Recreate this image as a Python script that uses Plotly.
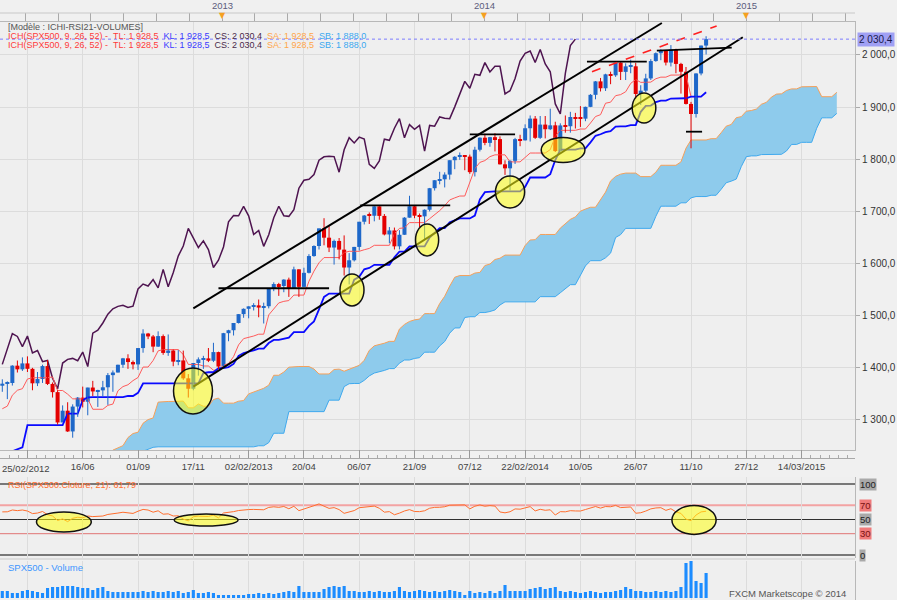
import pandas as pd
import plotly.graph_objects as go

# ------------------------------------------------------------------ data
START = pd.Timestamp("2012-02-25")          # first visible weekly candle
DAY_MS = 86400000

# weeks before the first visible candle (needed by the Ichimoku / RSI windows)
pre_high = [1330, 1344, 1338, 1335, 1322, 1297, 1320, 1337, 1339, 1327, 1337, 1364, 1371, 1359,
            1346, 1334, 1345, 1300, 1295, 1298, 1341, 1356, 1334, 1347, 1345, 1307, 1199, 1208,
            1190, 1230, 1204, 1220, 1220, 1195, 1171, 1225, 1239, 1293, 1285, 1277, 1264, 1215,
            1260, 1267, 1255, 1266, 1270, 1285, 1297, 1316, 1333, 1346, 1354, 1363, 1368]
pre_low = [1314, 1328, 1294, 1306, 1291, 1249, 1291, 1307, 1322, 1309, 1295, 1328, 1332, 1332,
           1319, 1311, 1297, 1270, 1258, 1262, 1267, 1333, 1307, 1295, 1283, 1169, 1101, 1121,
           1122, 1172, 1140, 1136, 1114, 1131, 1075, 1170, 1191, 1232, 1215, 1226, 1209, 1158,
           1158, 1231, 1209, 1202, 1254, 1265, 1275, 1290, 1306, 1300, 1335, 1340, 1354]
pre_close = [1329.2, 1343.0, 1320.0, 1321.2, 1304.3, 1279.2, 1313.8, 1332.4, 1328.2, 1319.7,
             1337.4, 1363.6, 1340.2, 1337.8, 1333.3, 1331.1, 1300.2, 1271.0, 1271.5, 1268.5,
             1339.7, 1343.8, 1316.1, 1345.0, 1292.3, 1199.4, 1178.8, 1123.5, 1176.8, 1174.0,
             1154.2, 1216.0, 1136.4, 1131.4, 1155.5, 1224.6, 1238.3, 1285.1, 1253.2, 1263.9,
             1215.7, 1158.7, 1244.3, 1255.2, 1219.7, 1265.3, 1257.6, 1277.8, 1289.1, 1315.4,
             1316.3, 1344.9, 1342.6, 1361.2, 1365.7]

open_ = [1365.7, 1369.6, 1370.9, 1404.2, 1397.1, 1408.5, 1398.1, 1370.3, 1378.5, 1403.4,
         1369.1, 1353.4, 1295.2, 1317.8, 1278.0, 1325.7, 1342.8, 1335.0, 1362.2, 1354.7,
         1356.8, 1362.7, 1386.0, 1391.0, 1405.9, 1418.2, 1411.1, 1406.6, 1437.9, 1465.8,
         1460.2, 1440.7, 1460.9, 1428.6, 1433.2, 1411.9, 1414.2, 1379.9, 1359.9, 1409.2,
         1416.2, 1418.1, 1413.6, 1430.2, 1402.4, 1466.5, 1472.1, 1486.0, 1503.0, 1513.2,
         1517.9, 1519.8, 1515.6, 1518.2, 1551.2, 1560.7, 1556.9, 1569.2, 1553.3, 1588.9,
         1555.3, 1582.2, 1614.4, 1633.7, 1667.5, 1649.6, 1630.7, 1643.4, 1626.7, 1592.4,
         1606.3, 1631.9, 1680.2, 1692.1, 1691.7, 1709.7, 1691.4, 1655.8, 1663.5, 1633.0,
         1655.2, 1688.0, 1709.9, 1691.8, 1690.5, 1703.2, 1744.5, 1759.8, 1761.6, 1770.6,
         1798.2, 1804.8, 1805.8, 1805.1, 1775.3, 1818.3, 1841.4, 1831.4, 1842.4, 1838.7,
         1790.3, 1782.6, 1797.0, 1838.6, 1836.3, 1859.5, 1878.0, 1841.1, 1866.5, 1857.6,
         1865.1, 1815.7, 1864.9, 1863.4, 1881.1, 1878.5, 1877.9, 1900.5, 1923.6, 1949.4,
         1936.2, 1962.9, 1961.0, 1985.4, 1967.6, 1978.2, 1978.3, 1925.2, 1931.6, 1955.1,
         1988.4, 2003.4, 2007.7, 1985.5, 2010.4, 1982.9, 1967.9, 1906.1, 1886.8, 1964.6,
         2018.1]
high = [1378, 1374, 1405, 1414, 1420, 1422, 1400, 1392, 1406, 1415,
        1372, 1357, 1328, 1334, 1330, 1344, 1364, 1362, 1375, 1358,
        1375, 1390, 1395, 1406, 1419, 1426, 1414, 1438, 1474, 1467,
        1463, 1470, 1464, 1464, 1435, 1434, 1433, 1388, 1409, 1420,
        1423, 1438, 1448, 1431, 1467, 1473, 1486, 1503, 1514, 1518,
        1524, 1531, 1525, 1552, 1564, 1563, 1570, 1573, 1594, 1589,
        1592, 1618, 1635, 1667, 1687, 1674, 1646, 1649, 1654, 1620,
        1632, 1680, 1693, 1698, 1710, 1710, 1695, 1670, 1669, 1664,
        1689, 1730, 1711, 1696, 1704, 1745, 1760, 1776, 1775, 1798,
        1806, 1813, 1806, 1809, 1824, 1842, 1849, 1843, 1850, 1844,
        1798, 1798, 1841, 1847, 1867, 1884, 1883, 1883, 1883, 1897,
        1872, 1869, 1884, 1891, 1889, 1902, 1901, 1925, 1950, 1956,
        1964, 1968, 1985, 1986, 1984, 1991, 1985, 1942, 1964, 1992,
        2005, 2011, 2009, 2019, 2012, 1985, 1977, 1910, 1965, 2018,
        2036]
low = [1354, 1340, 1366, 1391, 1394, 1392, 1357, 1365, 1371, 1367,
       1343, 1291, 1306, 1277, 1266, 1306, 1324, 1309, 1346, 1325,
       1345, 1329, 1354, 1391, 1400, 1398, 1397, 1396, 1429, 1455,
       1430, 1440, 1425, 1423, 1403, 1405, 1377, 1343, 1357, 1385,
       1398, 1411, 1411, 1398, 1398, 1451, 1462, 1485, 1496, 1495,
       1510, 1497, 1485, 1514, 1547, 1538, 1545, 1536, 1553, 1536,
       1555, 1581, 1613, 1627, 1635, 1622, 1598, 1608, 1577, 1560,
       1604, 1625, 1675, 1676, 1681, 1684, 1654, 1639, 1627, 1627,
       1655, 1688, 1687, 1670, 1646, 1700, 1740, 1752, 1746, 1761,
       1781, 1799, 1779, 1772, 1767, 1815, 1827, 1824, 1815, 1790,
       1770, 1740, 1791, 1825, 1836, 1834, 1839, 1839, 1840, 1856,
       1814, 1815, 1851, 1851, 1859, 1862, 1873, 1900, 1915, 1930,
       1931, 1944, 1958, 1952, 1952, 1965, 1916, 1904, 1929, 1952,
       1987, 1990, 1980, 1978, 1965, 1926, 1905, 1821, 1880, 1961,
       2001]
close = [1369.6, 1370.9, 1404.2, 1397.1, 1408.5, 1398.1, 1370.3, 1378.5, 1403.4, 1369.1,
         1353.4, 1295.2, 1317.8, 1278.0, 1325.7, 1342.8, 1335.0, 1362.2, 1354.7, 1356.8,
         1362.7, 1386.0, 1391.0, 1405.9, 1418.2, 1411.1, 1406.6, 1437.9, 1465.8, 1460.2,
         1440.7, 1460.9, 1428.6, 1433.2, 1411.9, 1414.2, 1379.9, 1359.9, 1409.2, 1416.2,
         1418.1, 1413.6, 1430.2, 1402.4, 1466.5, 1472.1, 1486.0, 1503.0, 1513.2, 1517.9,
         1519.8, 1515.6, 1518.2, 1551.2, 1560.7, 1556.9, 1569.2, 1553.3, 1588.9, 1555.3,
         1582.2, 1614.4, 1633.7, 1667.5, 1649.6, 1630.7, 1643.4, 1626.7, 1592.4, 1606.3,
         1631.9, 1680.2, 1692.1, 1691.7, 1709.7, 1691.4, 1655.8, 1663.5, 1633.0, 1655.2,
         1688.0, 1709.9, 1691.8, 1690.5, 1703.2, 1744.5, 1759.8, 1761.6, 1770.6, 1798.2,
         1804.8, 1805.8, 1805.1, 1775.3, 1818.3, 1841.4, 1831.4, 1842.4, 1838.7, 1790.3,
         1782.6, 1797.0, 1838.6, 1836.3, 1859.5, 1878.0, 1841.1, 1866.5, 1857.6, 1865.1,
         1815.7, 1864.9, 1863.4, 1881.1, 1878.5, 1877.9, 1900.5, 1923.6, 1949.4, 1936.2,
         1962.9, 1961.0, 1985.4, 1967.6, 1978.2, 1978.3, 1925.2, 1931.6, 1955.1, 1988.4,
         2003.4, 2007.7, 1985.5, 2010.4, 1982.9, 1967.9, 1906.1, 1886.8, 1964.6, 2018.1,
         2030.4]
volume = [7, 7, 5, 5, 7, 8, 7, 6, 5, 10,
          11, 11, 12, 12, 12, 11, 10, 10, 8, 10,
          11, 7, 6, 6, 6, 6, 6, 6, 7, 6,
          7, 6, 6, 7, 6, 7, 5, 6, 8, 5,
          5, 6, 5, 3, 3, 3, 3, 3, 3, 4,
          4, 5, 4, 5, 4, 5, 6, 7, 6, 12,
          6, 6, 6, 6, 9, 11, 12, 11, 12, 7,
          7, 6, 6, 7, 6, 7, 6, 6, 7, 11,
          7, 6, 7, 8, 7, 6, 7, 6, 7, 8,
          7, 6, 3, 7, 5, 6, 5, 7, 5, 7,
          13, 7, 7, 7, 7, 9, 10, 11, 9, 10,
          11, 7, 6, 7, 6, 5, 6, 7, 6, 5,
          6, 6, 7, 8, 11, 9, 7, 7, 6, 6,
          7, 6, 7, 6, 7, 11, 35, 37, 17, 15,
          25]

tick_dates = ["2012-03-31", "2012-06-16", "2012-09-01", "2012-11-17", "2013-02-02",
              "2013-04-20", "2013-07-06", "2013-09-21", "2013-12-07", "2014-02-22",
              "2014-05-10", "2014-07-26", "2014-10-11", "2014-12-27", "2015-03-14"]
tick_labels = ["", "16/06", "01/09", "17/11", "02/02/2013", "20/04", "06/07", "21/09",
               "07/12", "22/02/2014", "10/05", "26/07", "11/10", "27/12", "14/03/2015"]
first_label = "25/02/2012"
price_ticks = [1300, 1400, 1500, 1600, 1700, 1800, 1900, 2000]
year_labels = ["2013", "2014", "2015"]
year_dates = ["2013-01-01", "2014-01-01", "2015-01-01"]
last_price = 2030.4

# hand-drawn analysis objects, in (week number from START, price) coordinates
channel_lines = [((38.0, 1514.2), (131.2, 2061.4)),
                 ((38.0, 1363.8), (147.3, 2034.0))]
level_lines = [((43.0, 1552.6), (65.0, 1552.6)),
               ((71.2, 1711.7), (89.1, 1711.7)),
               ((93.0, 1847.9), (102.0, 1847.9)),
               ((116.3, 1987.2), (128.2, 1987.2)),
               ((130.2, 2008.2), (145.1, 2014.0)),
               ((136.0, 1852.9), (139.2, 1852.9))]
red_dash_line = ((117.3, 1968.0), (142.1, 2055.6))
price_ellipses = [(34.06, 41.81, 1311.5, 1399.7),
                  (67.18, 71.95, 1518.6, 1580.0),
                  (82.2, 86.8, 1614.5, 1675.9),
                  (98.1, 103.9, 1706.6, 1767.9),
                  (107.2, 115.9, 1793.8, 1841.8),
                  (125.3, 130.0, 1869.6, 1927.1)]
rsi_ellipses = [(6.8, 17.7, 32.4, 60.6),
                (34.2, 46.9, 40.8, 57.7),
                (133.2, 142.0, 28.9, 69.7)]

# ------------------------------------------------------------------ helpers
def wk(f):
    return START + pd.Timedelta(days=7 * f)

def py(y):           # screen y (px) -> paper fraction
    return (600 - y) / 579.0

n = len(close)
npre = len(pre_close)
dates = [wk(i) for i in range(n)]
X0, X1 = wk(-0.4575), wk(169.62)

H = pd.Series(pre_high + high, dtype=float)
L = pd.Series(pre_low + low, dtype=float)
C = pd.Series(pre_close + close, dtype=float)
tenkan = (H.rolling(9).max() + L.rolling(9).min()) / 2
kijun = (H.rolling(26).max() + L.rolling(26).min()) / 2
ssa_raw = (tenkan + kijun) / 2
ssb_raw = (H.rolling(52).max() + L.rolling(52).min()) / 2
d = C.diff()
ag = d.clip(lower=0).ewm(alpha=1 / 21, adjust=False).mean()
al = (-d).clip(lower=0).ewm(alpha=1 / 21, adjust=False).mean()
rsi = 100 - 100 / (1 + ag / al)

UP, DOWN = "#1f68c9", "#e40000"
fig = go.Figure()

# ---- cloud (shifted 26 weeks forward)
cx, ca, cb = [], [], []
for p in range(0, n + 26):
    k = p - 26 + npre
    if pd.notna(ssb_raw[k]) and pd.notna(ssa_raw[k]):
        cx.append(wk(p)); ca.append(ssa_raw[k]); cb.append(ssb_raw[k])
fig.add_trace(go.Scatter(x=cx, y=cb, mode="lines", line=dict(color="#3fa9ee", width=1),
                         hoverinfo="skip"))
fig.add_trace(go.Scatter(x=cx, y=ca, mode="lines", line=dict(color="#f5a05a", width=1),
                         fill="tonexty", fillcolor="#8ecbec", hoverinfo="skip"))

# ---- chikou span (close shifted 26 weeks back)
fig.add_trace(go.Scatter(x=[wk(i - 26) for i in range(26, n)], y=close[26:], mode="lines",
                         line=dict(color="#4e1450", width=1.5)))
# ---- tenkan / kijun
fig.add_trace(go.Scatter(x=dates, y=list(tenkan[npre:]), mode="lines",
                         line=dict(color="#ff5a5a", width=1)))
fig.add_trace(go.Scatter(x=dates, y=list(kijun[npre:]), mode="lines",
                         line=dict(color="#0a0aff", width=1.8)))

# ---- candles
for is_up, col in ((True, UP), (False, DOWN)):
    idx = [i for i in range(n) if (close[i] >= open_[i]) == is_up]
    wx, wy = [], []
    for i in idx:
        wx += [dates[i], dates[i], None]
        wy += [low[i], high[i], None]
    fig.add_trace(go.Scatter(x=wx, y=wy, mode="lines", line=dict(color=col, width=1),
                             hoverinfo="skip"))
    fig.add_trace(go.Bar(x=[dates[i] for i in idx],
                         base=[min(open_[i], close[i]) for i in idx],
                         y=[max(abs(close[i] - open_[i]), 1.5) for i in idx],
                         width=0.8 * 7 * DAY_MS, marker=dict(color=col, line=dict(width=0))))

# ---- RSI
fig.add_trace(go.Scatter(x=dates, y=list(rsi[npre:]), mode="lines",
                         line=dict(color="#ff6e2e", width=1), xaxis="x2", yaxis="y2"))
# ---- volume
fig.add_trace(go.Bar(x=dates, y=volume, width=0.62 * 7 * DAY_MS,
                     marker=dict(color="#1c8cff", line=dict(width=0)), xaxis="x3", yaxis="y3"))
# dummy traces registering the decorative axes
fig.add_trace(go.Scatter(x=[dates[0]], y=[None], xaxis="x4", yaxis="y", hoverinfo="skip"))
fig.add_trace(go.Scatter(x=[dates[0]], y=[None], xaxis="x5", yaxis="y", hoverinfo="skip"))

# ------------------------------------------------------------------ shapes
shapes = []
for (a, pa), (b, pb) in channel_lines:
    shapes.append(dict(type="line", xref="x", yref="y", x0=wk(a), y0=pa, x1=wk(b), y1=pb,
                       line=dict(color="black", width=2)))
for (a, pa), (b, pb) in level_lines:
    shapes.append(dict(type="line", xref="x", yref="y", x0=wk(a), y0=pa, x1=wk(b), y1=pb,
                       line=dict(color="black", width=1.8)))
(a, pa), (b, pb) = red_dash_line
shapes.append(dict(type="line", xref="x", yref="y", x0=wk(a), y0=pa, x1=wk(b), y1=pb,
                   line=dict(color="#ff2020", width=1.6, dash="dash")))
for a, b, p0, p1 in price_ellipses:
    shapes.append(dict(type="circle", xref="x", yref="y", x0=wk(a), x1=wk(b), y0=p0, y1=p1,
                       fillcolor="rgba(255,255,20,0.55)", line=dict(color="#111", width=1.5)))
for a, b, p0, p1 in rsi_ellipses:
    shapes.append(dict(type="circle", xref="x2", yref="y2", x0=wk(a), x1=wk(b), y0=p0, y1=p1,
                       fillcolor="rgba(255,255,20,0.55)", line=dict(color="#111", width=1.5)))
# last price dotted line
shapes.append(dict(type="line", xref="paper", yref="y", x0=0, x1=1, y0=last_price,
                   y1=last_price, line=dict(color="#7b7bff", width=1, dash="dot")))
# RSI levels
for lv, colr, w in ((100, "#505050", 1.5), (70, "#f3a3a3", 2), (50, "#303030", 1),
                    (30, "#e07474", 1), (0, "#505050", 1.5)):
    shapes.append(dict(type="line", xref="paper", yref="y2", x0=0, x1=1, y0=lv, y1=lv,
                       line=dict(color=colr, width=w), layer="below"))
# top band border
shapes.append(dict(type="line", xref="paper", yref="paper", x0=0, x1=1, y0=py(13), y1=py(13),
                   line=dict(color="#c8c8c8", width=1)))
shapes.append(dict(type="line", xref="paper", yref="paper", x0=0, x1=1, y0=py(559), y1=py(559),
                   line=dict(color="#c8c8c8", width=1)))

# ------------------------------------------------------------------ annotations
ann = []
F = "Liberation Sans"
ann.append(dict(xref="paper", yref="paper", x=6 / 855, y=py(27), xanchor="left", yanchor="middle",
                text="[Modèle : ICHI-RSI21-VOLUMES]", showarrow=False,
                font=dict(family=F, size=9, color="#555")))
ich = ("<span style='color:#ff3b3b'>ICH(SPX500, 9, 26, 52) -  TL: 1 928,5</span>  "
       "<span style='color:#3a3aff'>KL: 1 928,5</span>  "
       "<span style='color:#4a2a4a'>CS: 2 030,4</span>  "
       "<span style='color:#ffa64a'>SA: 1 928,5</span>  "
       "<span style='color:#3aa8f0'>SB: 1 888,0</span>")
for yy in (36, 45):
    ann.append(dict(xref="paper", yref="paper", x=6 / 855, y=py(yy), xanchor="left",
                    yanchor="middle", text=ich, showarrow=False, font=dict(family=F, size=9)))
ann.append(dict(xref="paper", yref="paper", x=6 / 855, y=py(485), xanchor="left",
                yanchor="middle", text="RSI(SPX500.Cloture, 21): 61,79", showarrow=False,
                font=dict(family=F, size=9, color="#ff6e2e")))
ann.append(dict(xref="paper", yref="paper", x=6 / 855, y=py(567), xanchor="left",
                yanchor="middle", text="SPX500 - Volume", showarrow=False,
                font=dict(family=F, size=9.5, color="#3d96ff")))
ann.append(dict(xref="paper", yref="paper", x=848 / 855, y=py(593), xanchor="right",
                yanchor="middle", text="FXCM Marketscope © 2014", showarrow=False,
                font=dict(family=F, size=9.5, color="#555")))
ann.append(dict(xref="paper", yref="paper", x=0, y=py(468), xanchor="left", yanchor="middle",
                text=first_label, showarrow=False, font=dict(family=F, size=9.5, color="#444")))
for lab, dstr in zip(year_labels, year_dates):
    xd = pd.Timestamp(dstr) - pd.Timedelta(days=5)
    ann.append(dict(xref="x", yref="paper", x=xd, y=py(6), text=lab, showarrow=False,
                    yanchor="middle", font=dict(family=F, size=9.5, color="#5c5c7c")))
    ann.append(dict(xref="x", yref="paper", x=xd, y=py(15.5), text="▼", showarrow=False,
                    yanchor="middle", font=dict(family="DejaVu Sans", size=8, color="#f5a020")))
ann.append(dict(xref="paper", yref="y", x=1, xshift=2, y=last_price, xanchor="left",
                yanchor="middle", text="2 030,4", showarrow=False, bgcolor="#a0a0f4",
                borderpad=1, font=dict(family=F, size=10, color="#1a1a4a")))
for lv, bg, fc in ((100, "#a9a9a9", "#222"), (70, "#f07a7a", "#7a1010"), (50, "#a9a9a9", "#222"),
                   (30, "#f07a7a", "#7a1010"), (0, "#a9a9a9", "#222")):
    ann.append(dict(xref="paper", yref="y2", x=1, xshift=4, y=lv, xanchor="left",
                    yanchor="middle", text=str(lv), showarrow=False, bgcolor=bg, borderpad=0,
                    font=dict(family=F, size=9.5, color=fc)))

# ------------------------------------------------------------------ layout
GRID = "#dcdcdc"
top_ticks = [pd.Timestamp(year_dates[0]) - pd.Timedelta(days=5) + pd.Timedelta(days=45.656 * j)
             for j in range(-7, 20)]
common_x = dict(range=[X0, X1], tickvals=tick_dates, showticklabels=False, ticks="",
                showgrid=True, gridcolor=GRID, zeroline=False)
fig.update_layout(
    width=897, height=600, margin=dict(l=0, r=42, t=21, b=0),
    paper_bgcolor="#f0f0f0", plot_bgcolor="#efefef", showlegend=False,
    barmode="overlay", separators=", ", font=dict(family=F, size=10, color="#333"),
    shapes=shapes, annotations=ann,
    xaxis=dict(domain=[0, 1], anchor="y", showline=True, linecolor="#b8b8b8", **common_x),
    yaxis=dict(domain=[py(450), 1], range=[1242.4, 2065.2], side="right",
               tickvals=price_ticks, tickformat=",.1f", ticks="outside", ticklen=4,
               tickcolor="#aaa", showgrid=True, gridcolor=GRID, zeroline=False,
               showline=True, linecolor="#b8b8b8", tickfont=dict(size=10, color="#333")),
    xaxis2=dict(anchor="y2", **common_x),
    yaxis2=dict(domain=[py(558), py(477)], range=[-4.23, 109.86], side="right",
                showticklabels=False, showgrid=False, zeroline=False, showline=True,
                linecolor="#b8b8b8", ticks=""),
    xaxis3=dict(anchor="y3", **common_x),
    yaxis3=dict(domain=[0, py(561)], range=[-2, 37], side="right", showticklabels=False,
                showgrid=False, zeroline=False, showline=True, linecolor="#b8b8b8", ticks=""),
    xaxis4=dict(overlaying="x", anchor="free", position=py(458), side="bottom",
                range=[X0, X1], tickvals=tick_dates, ticktext=tick_labels, ticks="inside",
                ticklen=8, tickcolor="#999", showline=True, linecolor="#a8a8a8",
                showgrid=False, zeroline=False, tickfont=dict(size=9.5, color="#444"),
                minor=dict(ticks="inside", ticklen=3, tickcolor="#aaa", showgrid=False,
                           tick0="2012-03-31", dtick=77 / 6 * DAY_MS)),
    xaxis5=dict(overlaying="x", anchor="free", position=1, side="top", range=[X0, X1],
                tickvals=top_ticks, showticklabels=False, ticks="outside", ticklen=8,
                tickcolor="#aaa", showline=True, linecolor="#b8b8b8", showgrid=False,
                zeroline=False),
)
fig.write_html("out.html")
